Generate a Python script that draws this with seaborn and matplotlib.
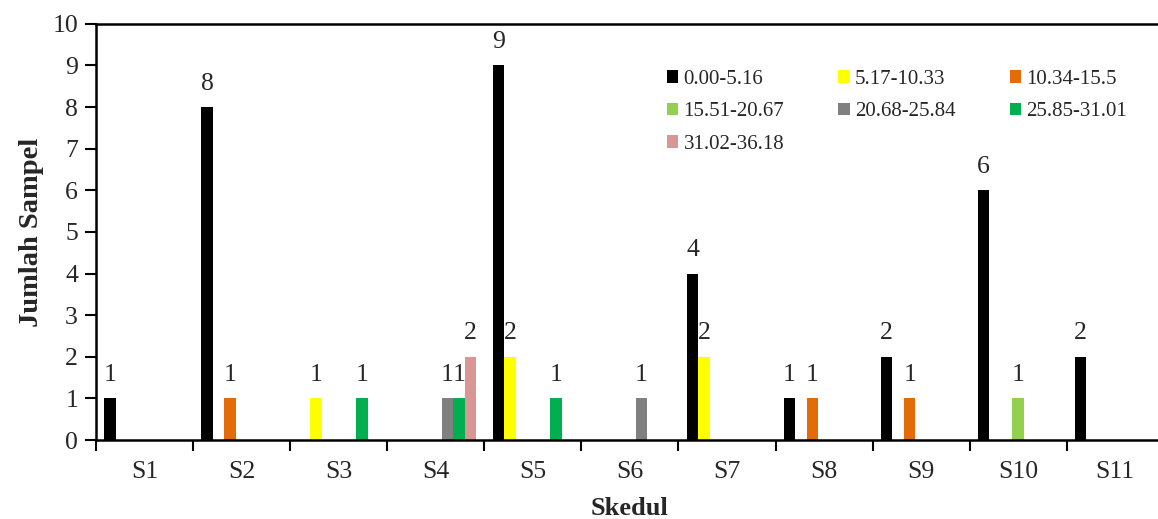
import numpy as np
import pandas as pd
import matplotlib
matplotlib.use("Agg")
import matplotlib.pyplot as plt
import seaborn as sns

# chart values
skedul = ["S1", "S2", "S3", "S4", "S5", "S6", "S7", "S8", "S9", "S10", "S11"]
kelas = ["0.00-5.16", "5.17-10.33", "10.34-15.5", "15.51-20.67",
         "20.68-25.84", "25.85-31.01", "31.02-36.18"]
c_0_516 = [1, 8, 0, 0, 9, 0, 4, 1, 2, 6, 2]
c_517_1033 = [0, 0, 1, 0, 2, 0, 2, 0, 0, 0, 0]
c_1034_155 = [0, 1, 0, 0, 0, 0, 0, 1, 1, 0, 0]
c_1551_2067 = [0, 0, 0, 0, 0, 0, 0, 0, 0, 1, 0]
c_2068_2584 = [0, 0, 0, 1, 0, 1, 0, 0, 0, 0, 0]
c_2585_3101 = [0, 0, 1, 1, 1, 0, 0, 0, 0, 0, 0]
c_3102_3618 = [0, 0, 0, 2, 0, 0, 0, 0, 0, 0, 0]
warna = ["#000000", "#FFFF00", "#E36C09", "#92D050", "#808080", "#00B050", "#D99694"]

series = [c_0_516, c_517_1033, c_1034_155, c_1551_2067,
          c_2068_2584, c_2585_3101, c_3102_3618]
rows = []
for k, vals in zip(kelas, series):
    for s, v in zip(skedul, vals):
        rows.append({"Skedul": s, "Kelas": k, "Jumlah": v})
df = pd.DataFrame(rows)

sns.set_style("white")
plt.rcParams["font.family"] = ["Liberation Serif", "DejaVu Serif"]

fig = plt.figure(figsize=(11.58, 5.19), dpi=100)
ax = fig.add_axes([0.083, 0.152, 0.922, 0.802])

sns.barplot(data=df, x="Skedul", y="Jumlah", hue="Kelas", hue_order=kelas,
            order=skedul, palette=warna, width=0.83, gap=0,
            saturation=1, linewidth=0, ax=ax)

for cont in ax.containers:
    labels = [f"{int(v)}" if v > 0 else "" for v in cont.datavalues]
    ax.bar_label(cont, labels=labels, padding=9, fontsize=18.5)

ax.set_ylim(0, 10)
ax.set_xlim(-0.5, 10.5)
ax.set_yticks(range(0, 11))
ax.set_xticks(np.arange(-0.5, 11, 1), minor=False)
ax.set_xticklabels([])
ax.set_xticks(range(11), minor=True)
ax.set_xticklabels(skedul, minor=True)
ax.tick_params(axis="x", which="major", direction="out", length=8, width=1.5,
               bottom=True, color="black")
ax.tick_params(axis="x", which="minor", length=0, labelsize=18.5, pad=15)
ax.tick_params(axis="y", direction="out", length=8, width=1.5, left=True,
               labelsize=18.5, color="black", pad=5)

ax.spines["right"].set_visible(False)
for side in ["left", "bottom", "top"]:
    ax.spines[side].set_linewidth(1.8)
    ax.spines[side].set_color("black")

ax.set_xlabel("Skedul", fontsize=19, fontweight="bold", labelpad=10)
ax.set_ylabel("Jumlah Sampel", fontsize=20.5, fontweight="bold", labelpad=6)

# legend filled row by row like the original
handles, labs = ax.get_legend_handles_labels()
urut = [0, 3, 6, 1, 4, 2, 5]
ax.legend([handles[i] for i in urut], [labs[i] for i in urut],
          ncol=3, frameon=False, fontsize=15, loc="upper left",
          bbox_to_anchor=(0.517, 0.935), handlelength=0.55, handleheight=0.55,
          handletextpad=0.25, columnspacing=2.6, labelspacing=0.65)

fig.savefig("out.png", dpi=100)
